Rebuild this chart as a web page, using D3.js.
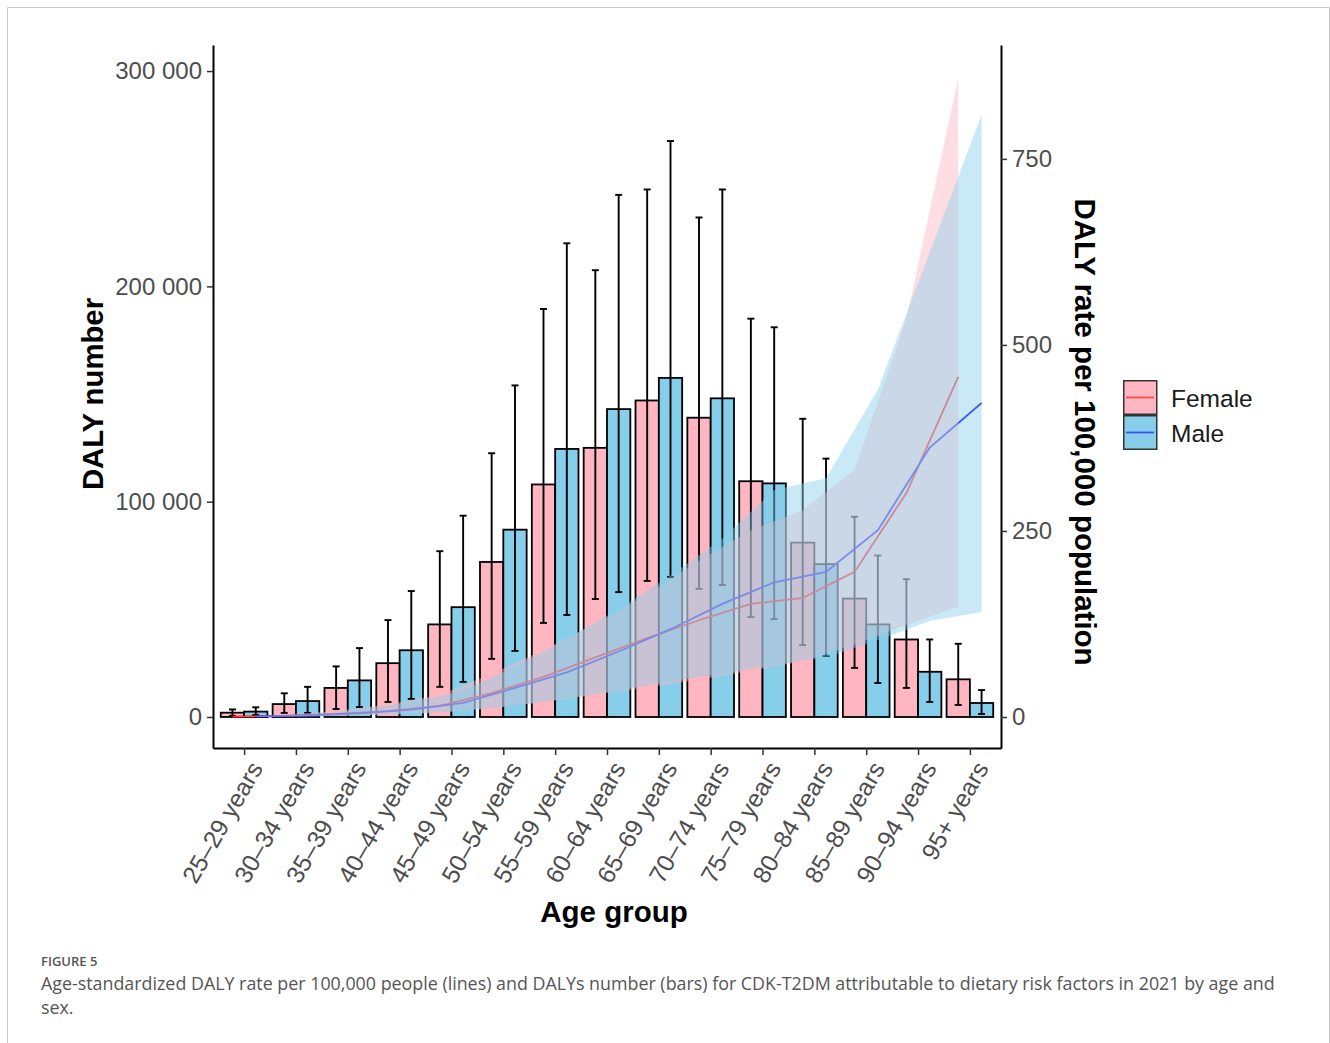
<!DOCTYPE html>
<html><head><meta charset="utf-8">
<script src="https://cdn.jsdelivr.net/npm/d3@7"></script>
<style>
html,body{margin:0;padding:0;background:#fff;}
svg{display:block;}
</style></head>
<body>
<svg id="chart" width="1330" height="1043"></svg>
<script>
// ---------------- data ----------------
const ages = ["25–29 years","30–34 years","35–39 years","40–44 years","45–49 years","50–54 years","55–59 years","60–64 years","65–69 years","70–74 years","75–79 years","80–84 years","85–89 years","90–94 years","95+ years"];
const sexes = ["Female","Male"];

// DALY number (bars, left axis)
const femaleDALY    = [2000, 6000, 13500, 25000, 43000, 72000, 108000, 125000, 147000, 139000, 109500, 81000, 55000, 36000, 17500];
const femaleDALYLow = [500, 1900, 3700, 7000, 14000, 27000, 43700, 54800, 63200, 59500, 46400, 33400, 22800, 13500, 5600];
const femaleDALYUp  = [3500, 11000, 23500, 45000, 77000, 122500, 189500, 207500, 245000, 232000, 185000, 138500, 93000, 64000, 34000];
const maleDALY      = [2500, 7400, 17000, 31000, 51000, 87000, 124500, 143000, 157500, 148000, 108500, 71000, 43000, 21000, 6500];
const maleDALYLow   = [900, 1900, 4600, 8400, 16300, 30700, 47400, 58000, 65000, 61300, 45500, 28300, 15800, 7000, 1400];
const maleDALYUp    = [4500, 14000, 32000, 58500, 93500, 154000, 220000, 242500, 267500, 245000, 181000, 120000, 75000, 36000, 12500];

// DALY rate per 100,000 (lines + ribbons, right axis)
const femaleRate    = [0.3, 1.5, 4, 8, 15, 32, 54, 80, 106, 130, 152, 160, 195, 301, 457];
const femaleRateLow = [0.1, 0.5, 1.5, 3, 6, 12, 20, 30, 40, 50, 62, 75, 97, 124, 148];
const femaleRateUp  = [0.8, 3, 8, 17, 30, 58, 90, 125, 165, 210, 251, 278, 332, 535, 859];
const maleRate      = [0.5, 2, 5, 10, 19, 39, 60, 88, 118, 152, 181, 195, 251, 362, 422];
const maleRateLow   = [0.1, 0.7, 2, 4, 8, 15, 25, 36, 48, 58, 70, 80, 103, 129, 141];
const maleRateUp    = [1, 3.5, 10, 20, 35, 68, 105, 145, 190, 240, 305, 321, 440, 625, 809];

const leftTicks  = [0, 100000, 200000, 300000];
const rightTicks = [0, 250, 500, 750];

// ---------------- layout ----------------
const svg = d3.select("#chart");
const P = {left:213, right:1001, top:45, bottom:748};
const font = "'Liberation Sans', Arial, Helvetica, sans-serif";
const fillCol = {Female:"#FFB6C1", Male:"#87CEEB"};
const lineCol = {Female:"#FF0000", Male:"#0000FF"};

// frame
svg.append("path").attr("d","M7.5,1043 V7.5 H1329.5 V1043").attr("fill","none").attr("stroke","#c8c8c8").attr("stroke-width",1);

const x = d3.scalePoint().domain(ages).range([P.left, P.right]).padding(0.6);
const step = x.step();
const yL = d3.scaleLinear().domain([-14400, 312100]).range([P.bottom, P.top]);
const SEC = 345.6;
const yR = d3.scaleLinear().domain([-14400/SEC, 312100/SEC]).range([P.bottom, P.top]);

const bw = 0.45*step;
const off = {Female:-bw/2, Male:bw/2};

const series = {
  Female:{v:femaleDALY, lo:femaleDALYLow, hi:femaleDALYUp, r:femaleRate, rl:femaleRateLow, ru:femaleRateUp},
  Male:{v:maleDALY, lo:maleDALYLow, hi:maleDALYUp, r:maleRate, rl:maleRateLow, ru:maleRateUp}
};

const gBars = svg.append("g");
sexes.forEach(s=>{
  const d = ages.map((a,i)=>({a, v:series[s].v[i]}));
  gBars.selectAll(null).data(d).enter().append("rect")
    .attr("x", d=>x(d.a)+off[s]-bw/2)
    .attr("width", bw)
    .attr("y", d=>yL(d.v))
    .attr("height", d=>yL(0)-yL(d.v))
    .attr("fill", fillCol[s]).attr("stroke","#000").attr("stroke-width",1.8);
});
const gErr = svg.append("g").attr("stroke","#000").attr("stroke-width",1.9);
sexes.forEach(s=>{
  const d = ages.map((a,i)=>({a, lo:series[s].lo[i], hi:series[s].hi[i]}));
  const cx = d=>x(d.a)+off[s];
  gErr.selectAll(null).data(d).enter().append("line")
    .attr("x1",cx).attr("x2",cx).attr("y1",d=>yL(d.lo)).attr("y2",d=>yL(d.hi));
  gErr.selectAll(null).data(d).enter().append("line")
    .attr("x1",d=>cx(d)-3.5).attr("x2",d=>cx(d)+3.5).attr("y1",d=>yL(d.hi)).attr("y2",d=>yL(d.hi));
  gErr.selectAll(null).data(d).enter().append("line")
    .attr("x1",d=>cx(d)-3.5).attr("x2",d=>cx(d)+3.5).attr("y1",d=>yL(d.lo)).attr("y2",d=>yL(d.lo));
});

// lines (drawn beneath ribbons)
sexes.forEach(s=>{
  const d = ages.map((a,i)=>({a, r:series[s].r[i]}));
  svg.append("path").datum(d)
    .attr("d", d3.line().x(d=>x(d.a)+off[s]).y(d=>yR(d.r)))
    .attr("fill","none").attr("stroke",lineCol[s]).attr("stroke-width",1.8);
});
// ribbons
sexes.forEach(s=>{
  const d = ages.map((a,i)=>({a, lo:series[s].rl[i], hi:series[s].ru[i]}));
  svg.append("path").datum(d)
    .attr("d", d3.area().x(d=>x(d.a)+off[s]).y0(d=>yR(d.lo)).y1(d=>yR(d.hi)))
    .attr("fill",fillCol[s]).attr("fill-opacity",0.45);
});

// axes
const fmt = v => d3.format(",")(v).replace(/,/g," ");
function styleAxis(g){
  g.select(".domain").attr("stroke","#000").attr("stroke-width",2);
  g.selectAll(".tick line").attr("stroke","#333").attr("stroke-width",1.5);
  g.selectAll(".tick text").attr("fill","#4D4D4D").attr("font-size","24px").attr("font-family",font);
}
const axL = svg.append("g").attr("transform",`translate(${P.left},0)`)
  .call(d3.axisLeft(yL).tickValues(leftTicks).tickFormat(fmt).tickSize(6).tickSizeOuter(0).tickPadding(5));
styleAxis(axL);
const axR = svg.append("g").attr("transform",`translate(${P.right},0)`)
  .call(d3.axisRight(yR).tickValues(rightTicks).tickSize(6).tickSizeOuter(0).tickPadding(5));
styleAxis(axR);
const axB = svg.append("g").attr("transform",`translate(0,${P.bottom})`)
  .call(d3.axisBottom(x).tickSize(7).tickSizeOuter(0));
styleAxis(axB);
axB.selectAll(".tick text")
  .attr("font-size","24.5px")
  .attr("text-anchor","end")
  .attr("transform","translate(3,11) rotate(-60)")
  .attr("x",0).attr("y",0).attr("dy","0.75em");

// titles
svg.append("text").attr("transform","translate(103,394) rotate(-90)")
  .attr("text-anchor","middle").attr("font-family",font).attr("font-weight","bold").attr("font-size","29.3px")
  .text("DALY number");
svg.append("text").attr("transform","translate(1075,432) rotate(90)")
  .attr("text-anchor","middle").attr("font-family",font).attr("font-weight","bold").attr("font-size","29.5px")
  .text("DALY rate per 100,000 population");
svg.append("text").attr("x",614).attr("y",922)
  .attr("text-anchor","middle").attr("font-family",font).attr("font-weight","bold").attr("font-size","29.5px")
  .text("Age group");

// legend
const lg = svg.append("g").attr("transform","translate(1123,380)");
sexes.forEach((s,i)=>{
  const g = lg.append("g").attr("transform",`translate(0,${i*35})`);
  g.append("rect").attr("x",0.75).attr("y",0.75).attr("width",33).attr("height",33.5)
    .attr("fill",fillCol[s]).attr("stroke","#333").attr("stroke-width",1.5);
  g.append("line").attr("x1",3).attr("x2",31).attr("y1",17.5).attr("y2",17.5)
    .attr("stroke",lineCol[s]).attr("stroke-opacity",0.6).attr("stroke-width",1.8);
  g.append("text").attr("x",48).attr("y",18).attr("dy","0.35em")
    .attr("font-family",font).attr("font-size","24.5px").attr("fill","#1a1a1a").text(s);
});

// caption
svg.append("text").attr("x",41).attr("y",966).attr("font-family","'Open Sans', sans-serif")
  .attr("font-size","13px").attr("fill","#555").attr("font-weight","600").text("FIGURE 5");
svg.append("text").attr("x",41).attr("y",990).attr("font-family","'Open Sans', sans-serif")
  .attr("font-size","17.85px").attr("fill","#555")
  .text("Age-standardized DALY rate per 100,000 people (lines) and DALYs number (bars) for CDK-T2DM attributable to dietary risk factors in 2021 by age and");
svg.append("text").attr("x",41).attr("y",1014).attr("font-family","'Open Sans', sans-serif")
  .attr("font-size","17.85px").attr("fill","#555").text("sex.");
</script>
</body></html>
